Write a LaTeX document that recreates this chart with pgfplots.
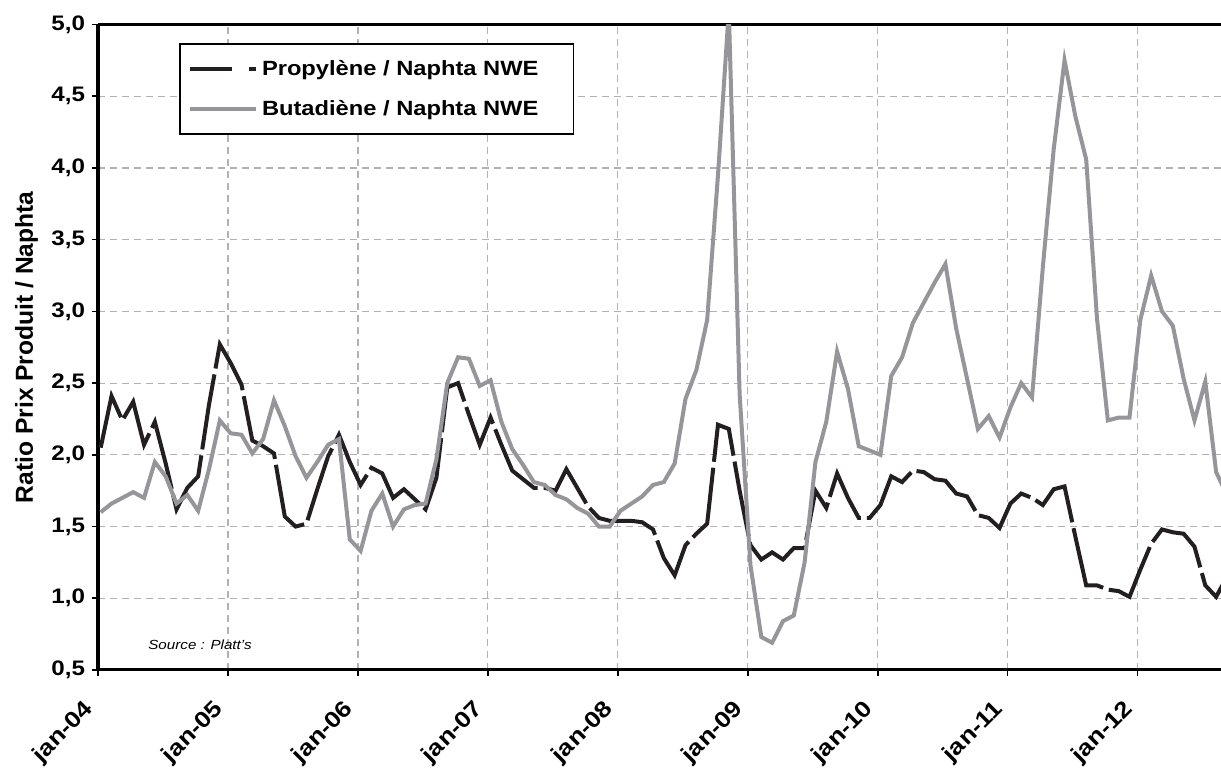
\documentclass[border=0pt]{standalone}
\usepackage{fontspec}
\setmainfont{Liberation Sans}[FakeStretch=1.15]
\newfontfamily\plainsans{Liberation Sans}
\usepackage{pgfplots}
\usepackage{pgfplotstable}
\pgfplotsset{compat=1.18}
\definecolor{propc}{RGB}{35,31,32}
\definecolor{butc}{RGB}{150,150,154}
\definecolor{gridc}{RGB}{178,178,178}

\pgfplotsset{
  plainlegend/.style={legend image code/.code={\draw[##1] (0pt,0pt) -- (33pt,0pt);}},
  proplegend/.style={legend image code/.code={\draw[##1, dash pattern=on 21pt off 8.5pt on 4pt off 20pt] (0pt,0pt) -- (33pt,0pt);}},
}

\pgfplotstableread{
i prop but
0 2.05 1.60
1 2.41 1.66
2 2.24 1.70
3 2.37 1.74
4 2.07 1.70
5 2.23 1.95
6 1.94 1.85
7 1.62 1.66
8 1.77 1.72
9 1.85 1.61
10 2.35 1.90
11 2.77 2.24
12 2.64 2.15
13 2.49 2.14
14 2.10 2.01
15 2.06 2.11
16 2.01 2.38
17 1.57 2.20
18 1.50 1.99
19 1.52 1.84
20 1.76 1.95
21 1.99 2.07
22 2.14 2.11
23 1.95 1.41
24 1.79 1.33
25 1.91 1.61
26 1.87 1.73
27 1.70 1.50
28 1.76 1.62
29 1.69 1.65
30 1.62 1.66
31 1.84 1.97
32 2.47 2.50
33 2.50 2.68
34 2.28 2.67
35 2.07 2.48
36 2.26 2.52
37 2.07 2.23
38 1.89 2.04
39 1.83 1.93
40 1.77 1.81
41 1.77 1.79
42 1.75 1.72
43 1.90 1.69
44 1.77 1.63
45 1.64 1.59
46 1.56 1.50
47 1.54 1.50
48 1.54 1.61
49 1.54 1.66
50 1.53 1.71
51 1.48 1.79
52 1.28 1.81
53 1.16 1.94
54 1.37 2.39
55 1.45 2.59
56 1.52 2.94
57 2.21 3.95
58 2.18 5.10
59 1.75 2.42
60 1.37 1.23
61 1.27 0.73
62 1.32 0.69
63 1.27 0.84
64 1.35 0.88
65 1.35 1.25
66 1.75 1.95
67 1.63 2.23
68 1.87 2.72
69 1.70 2.46
70 1.56 2.06
71 1.56 2.03
72 1.65 2.00
73 1.85 2.55
74 1.81 2.68
75 1.89 2.92
76 1.88 3.06
77 1.83 3.20
78 1.82 3.33
79 1.73 2.88
80 1.71 2.53
81 1.58 2.18
82 1.56 2.27
83 1.49 2.12
84 1.66 2.33
85 1.73 2.50
86 1.70 2.40
87 1.65 3.31
88 1.76 4.13
89 1.78 4.75
90 1.43 4.36
91 1.09 4.06
92 1.09 2.95
93 1.06 2.24
94 1.05 2.26
95 1.01 2.26
96 1.20 2.94
97 1.38 3.25
98 1.48 3.00
99 1.46 2.90
100 1.45 2.53
101 1.36 2.24
102 1.09 2.51
103 1.01 1.88
104 1.15 1.72
}\datatable

\newcommand{\tickfont}{\bfseries\fontsize{10.5}{12}\selectfont}
\newcommand{\xtickfont}{\bfseries\fontsize{11.3}{13}\selectfont}

\begin{document}
\begin{tikzpicture}
\begin{axis}[
  scale only axis,
  width=561.5pt, height=322.75pt,
  xmin=-0.25, xmax=103.45,
  ymin=0.5, ymax=5,
  axis x line=box,
  axis y line*=left,
  axis line style={line width=1.5pt, black},
  y axis line style={-},
  x axis line style={-},
  xtick={-0.25,11.75,23.75,35.75,47.75,59.75,71.75,83.75,95.75},
  xticklabels={jan-04,jan-05,jan-06,jan-07,jan-08,jan-09,jan-10,jan-11,jan-12},
  xtick pos=left,
  ytick pos=left,
  ytick={0.5,1,1.5,2,2.5,3,3.5,4,4.5,5},
  /pgf/number format/assume math mode=true,
  yticklabel style={/pgf/number format/.cd, use comma, fixed, fixed zerofill, precision=1, /tikz/.cd, font=\tickfont},
  xticklabel style={font=\xtickfont, xshift=-1.5pt, yshift=-12.5pt, rotate=45, anchor=east},
  tick align=outside,
  major tick length=3pt,
  tick style={black, line width=0.8pt},
  grid=major,
  major grid style={gridc, dash pattern=on 3.5pt off 2.5pt, line width=0.6pt},
  ylabel={Ratio Prix Produit / Naphta},
  every axis y label/.style={at={(axis description cs:-0.0637,0.5)}, rotate=90, anchor=center, font=\plainsans\bfseries\fontsize{12.3}{14}\selectfont},
  legend style={at={(axis description cs:0.0724,0.971)}, anchor=north west,
    draw=black, line width=0.7pt, font=\bfseries\fontsize{10.3}{12}\selectfont,
    inner xsep=4pt, inner ysep=6pt, row sep=7pt},
  legend cell align=left,
  plainlegend,
]
\addplot[propc, line width=2pt, dash pattern=on 38pt off 3pt, proplegend]
  table[x=i, y=prop] {\datatable};
\addlegendentry{Propylène / Naphta NWE\rule{11.5pt}{0pt}}
\addplot[butc, line width=2pt] table[x=i, y=but] {\datatable};
\addlegendentry{Butadiène / Naphta NWE\rule{11.5pt}{0pt}\rule[-7.5pt]{0pt}{7.5pt}}
\node[anchor=west, inner sep=0pt, font=\itshape\fontsize{6.6}{8}\selectfont] at (axis description cs:0.0445,0.0387) {Source : Platt's};
\coordinate (LL) at (rel axis cs:0,0);
\coordinate (UR) at (rel axis cs:1,1);
\end{axis}
\pgfresetboundingbox
\path[use as bounding box] ([xshift=-49pt,yshift=-50pt]LL) rectangle ([yshift=12.25pt]UR);
\end{tikzpicture}
\end{document}
